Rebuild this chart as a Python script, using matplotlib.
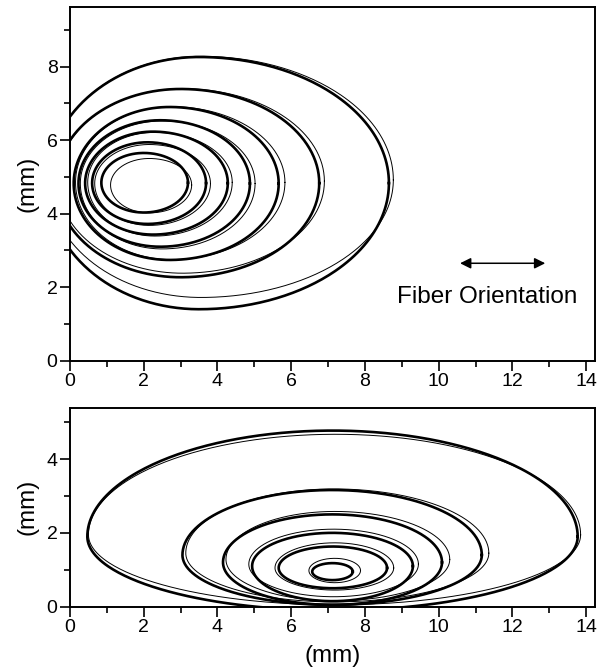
import numpy as np
import matplotlib
matplotlib.use("Agg")
import matplotlib.pyplot as plt
from matplotlib.ticker import MultipleLocator

plt.rcParams['font.family'] = ['Liberation Sans', 'DejaVu Sans']

# ---- data: fitted contours (thick) and measured contours (thin) ----
# each contour: centre x, centre y, left half-width, right half-width, upper half-height, lower half-height
top_fit_cx = [2.00, 2.10, 2.25, 2.45, 2.70, 3.00, 3.50]
top_fit_cy = [4.84, 4.83, 4.83, 4.82, 4.82, 4.83, 4.83]
top_fit_aL = [1.15, 1.50, 1.84, 2.22, 2.60, 3.37, 4.12]
top_fit_aR = [1.20, 1.59, 2.03, 2.43, 2.96, 3.76, 5.15]
top_fit_bT = [0.81, 1.11, 1.40, 1.72, 2.08, 2.56, 3.43]
top_fit_bB = [0.81, 1.11, 1.40, 1.72, 2.08, 2.56, 3.43]

top_meas_cx = [2.15, 2.15, 2.30, 2.50, 2.75, 3.05, 3.55]
top_meas_cy = [4.78, 4.82, 4.85, 4.82, 4.85, 4.88, 4.92]
top_meas_aL = [1.05, 1.48, 1.82, 2.22, 2.60, 3.38, 4.14]
top_meas_aR = [1.15, 1.66, 2.10, 2.52, 3.08, 3.85, 5.22]
top_meas_bT = [0.72, 1.06, 1.36, 1.70, 2.06, 2.52, 3.36]
top_meas_bB = [0.76, 1.14, 1.46, 1.78, 2.10, 2.50, 3.20]

bot_fit_cx = [7.12, 7.13, 7.12, 7.12, 7.11, 7.12]
bot_fit_cy = [0.95, 1.05, 1.10, 1.20, 1.40, 1.90]
bot_fit_aL = [0.55, 1.47, 2.18, 2.97, 4.06, 6.65]
bot_fit_aR = [0.55, 1.47, 2.18, 2.97, 4.06, 6.65]
bot_fit_bT = [0.23, 0.58, 0.90, 1.30, 1.76, 2.87]
bot_fit_bB = [0.23, 0.55, 0.95, 1.15, 1.35, 2.00]

bot_meas_cx = [7.18, 7.18, 7.15, 7.18, 7.16, 7.20]
bot_meas_cy = [0.98, 1.05, 1.15, 1.28, 1.45, 1.95]
bot_meas_aL = [0.70, 1.62, 2.30, 2.95, 4.02, 6.70]
bot_meas_aR = [0.70, 1.60, 2.30, 3.12, 4.20, 6.65]
bot_meas_bT = [0.33, 0.68, 0.95, 1.30, 1.74, 2.72]
bot_meas_bB = [0.33, 0.60, 0.88, 1.12, 1.32, 1.90]

x_ticks = [0, 2, 4, 6, 8, 10, 12, 14]
top_y_ticks = [0, 2, 4, 6, 8]
bot_y_ticks = [0, 2, 4]
axis_label = "(mm)"
note_text = "Fiber Orientation"
arrow_x = [10.58, 12.89]
arrow_y = 2.65
note_xy = (11.31, 1.74)


def egg(cx, cy, aL, aR, bT, bB, n=400):
    t = np.linspace(0, 2 * np.pi, n)
    c, s = np.cos(t), np.sin(t)
    x = cx + np.where(c >= 0, aR, aL) * c
    y = cy + np.where(s >= 0, bT, bB) * s
    return x, y


fig = plt.figure(figsize=(5.97, 6.69), dpi=100)
ax1 = fig.add_axes([70 / 597, 1 - 360.7 / 669, 525 / 597, 353.7 / 669])
ax2 = fig.add_axes([70 / 597, 1 - 606.7 / 669, 525 / 597, 199.0 / 669])

for i in range(len(top_meas_cx)):
    x, y = egg(top_meas_cx[i], top_meas_cy[i], top_meas_aL[i], top_meas_aR[i],
               top_meas_bT[i], top_meas_bB[i])
    ax1.plot(x, y, color='black', lw=0.7)
for i in range(len(top_fit_cx)):
    x, y = egg(top_fit_cx[i], top_fit_cy[i], top_fit_aL[i], top_fit_aR[i],
               top_fit_bT[i], top_fit_bB[i])
    ax1.plot(x, y, color='black', lw=1.9)

for i in range(len(bot_meas_cx)):
    x, y = egg(bot_meas_cx[i], bot_meas_cy[i], bot_meas_aL[i], bot_meas_aR[i],
               bot_meas_bT[i], bot_meas_bB[i])
    ax2.plot(x, y, color='black', lw=0.7)
for i in range(len(bot_fit_cx)):
    x, y = egg(bot_fit_cx[i], bot_fit_cy[i], bot_fit_aL[i], bot_fit_aR[i],
               bot_fit_bT[i], bot_fit_bB[i])
    ax2.plot(x, y, color='black', lw=1.9)

ax1.annotate('', xy=(arrow_x[1], arrow_y), xytext=(arrow_x[0], arrow_y),
             arrowprops=dict(arrowstyle='<|-|>', color='black', lw=1.1,
                             mutation_scale=16, shrinkA=0, shrinkB=0))
ax1.text(note_xy[0], note_xy[1], note_text, ha='center', va='center', fontsize=17.5)

ax1.set_xlim(0, 14.24)
ax1.set_ylim(0, 9.62)
ax2.set_xlim(0, 14.24)
ax2.set_ylim(0, 5.39)

for ax, yt in ((ax1, top_y_ticks), (ax2, bot_y_ticks)):
    ax.set_xticks(x_ticks)
    ax.set_yticks(yt)
    ax.xaxis.set_minor_locator(MultipleLocator(1))
    ax.yaxis.set_minor_locator(MultipleLocator(1))
    ax.tick_params(which='major', direction='out', length=7, width=1.2, labelsize=14, pad=2)
    ax.tick_params(which='minor', direction='out', length=4.5, width=1.2)
    for sp in ax.spines.values():
        sp.set_linewidth(1.4)
    ax.set_ylabel(axis_label, fontsize=17.5, labelpad=6)

ax2.set_xlabel(axis_label, fontsize=17.5, labelpad=6)

fig.savefig('out.png', dpi=100)
